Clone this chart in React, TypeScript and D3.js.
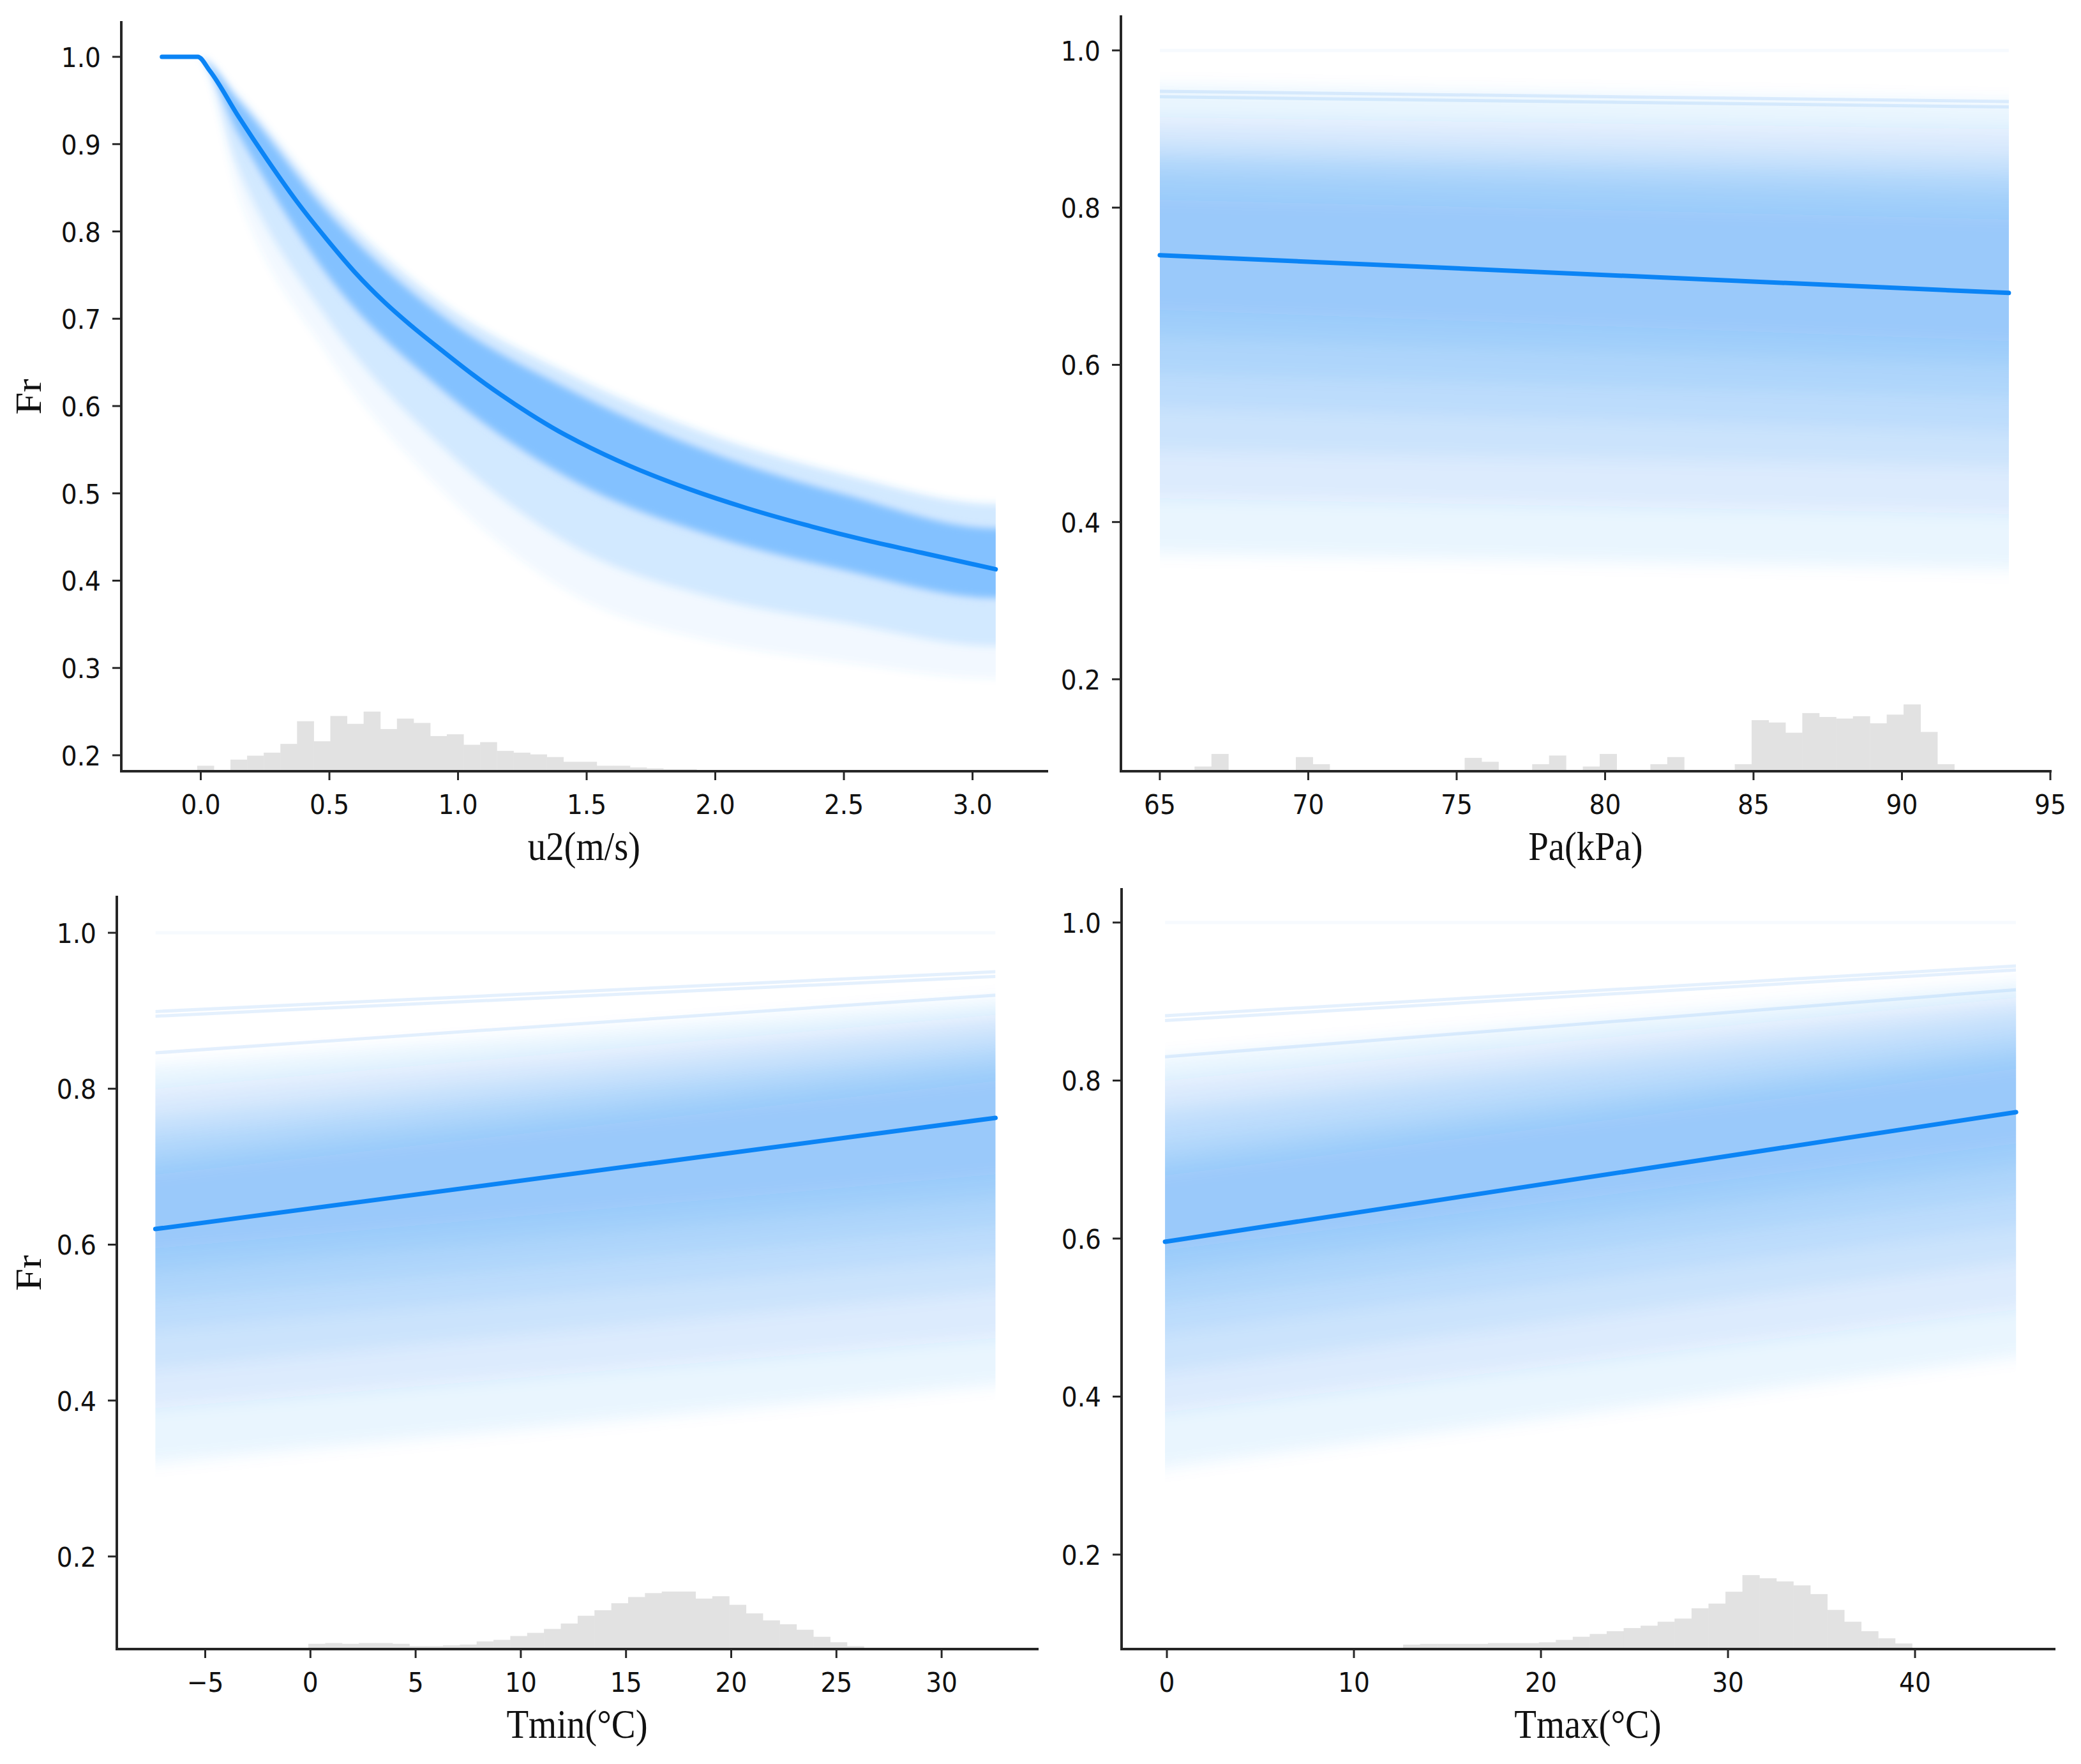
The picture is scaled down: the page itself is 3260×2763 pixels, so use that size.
import React from "react";
import * as d3 from "d3";

// ---------- u2 panel (top left) ----------
const u2MeanX = [-0.151, -0.012, 0.035, 0.148, 0.261, 0.374, 0.487, 0.6, 0.714, 0.826, 0.94, 1.053, 1.166, 1.279, 1.392, 1.469, 1.671, 1.897, 2.123, 2.349, 2.575, 2.802, 3.09];
const u2MeanY = [1.0, 1.0, 0.984, 0.931, 0.881, 0.834, 0.792, 0.753, 0.719, 0.69, 0.663, 0.637, 0.613, 0.591, 0.571, 0.559, 0.531, 0.505, 0.483, 0.464, 0.447, 0.432, 0.413];
// envelopes of the ICE curves
const u2BandX = [-0.151, -0.012, 0.148, 0.487, 0.94, 1.445, 2.0, 2.5, 3.09];
const u2FadeTop = [1, 1, 0.955, 0.837, 0.718, 0.635, 0.565, 0.522, 0.488];
const u2DenseTop = [1, 1, 0.949, 0.824, 0.703, 0.617, 0.545, 0.499, 0.46];
const u2DenseBottom = [1, 1, 0.911, 0.752, 0.618, 0.515, 0.45, 0.412, 0.38];
const u2LightBottom = [1, 1, 0.871, 0.702, 0.553, 0.44, 0.38, 0.352, 0.325];
const u2FaintBottom = [1, 1, 0.841, 0.662, 0.503, 0.385, 0.33, 0.307, 0.288];
const u2HistStart = -0.014;
const u2HistWidth = 0.0647;
const u2HistTop = [0.188, null, 0.195, 0.1995, 0.203, 0.213, 0.239, 0.216, 0.245, 0.236, 0.25, 0.23, 0.242, 0.237, 0.222, 0.224, 0.212, 0.215, 0.205, 0.203, 0.201, 0.198, 0.1925, 0.1925, 0.188, 0.188, 0.186, 0.185, 0.184, 0.184, 0.183, 0.183];
const u2TicksX = [0, 0.5, 1, 1.5, 2, 2.5, 3];
const u2TicksY = [0.2, 0.3, 0.4, 0.5, 0.6, 0.7, 0.8, 0.9, 1.0];

// ---------- Pa panel (top right) ----------
const paX = [65, 93.6];
const paMean = [0.7395, 0.6915];
const paBandStartLo = [0.36, 0.43, 0.49, 0.545, 0.59, 0.635, 0.67];
const paBandStartHi = [0.955, 0.915, 0.89, 0.87, 0.86, 0.84, 0.81];
const paBandEndLo = [0.34, 0.41, 0.47, 0.515, 0.56, 0.6, 0.63];
const paBandEndHi = [0.935, 0.9, 0.87, 0.85, 0.835, 0.815, 0.785];
const paLineStart = [0.948, 0.941];
const paLineEnd = [0.935, 0.928];
const paFaintStart = [1.0];
const paFaintEnd = [1.0];
const paHistStart = 66.17;
const paHistWidth = 0.5687;
const paHistTop = [0.089, 0.105, null, null, null, null, 0.101, 0.092, null, null, null, null, null, null, null, null, 0.1, 0.095, null, null, 0.092, 0.103, null, 0.089, 0.105, null, null, 0.092, 0.101, null, null, null, 0.092, 0.148, 0.145, 0.132, 0.157, 0.152, 0.15, 0.153, 0.144, 0.155, 0.168, 0.133, 0.092];
const paTicksX = [65, 70, 75, 80, 85, 90, 95];
const paTicksY = [0.2, 0.4, 0.6, 0.8, 1.0];

// ---------- Tmin panel (bottom left) ----------
const tminX = [-7.37, 32.56];
const tminMean = [0.62, 0.7626];
const tminBandStartLo = [0.32, 0.39, 0.44, 0.49, 0.53, 0.565, 0.595];
const tminBandStartHi = [0.83, 0.8, 0.77, 0.75, 0.73, 0.71, 0.69];
const tminBandEndLo = [0.42, 0.48, 0.54, 0.585, 0.625, 0.66, 0.69];
const tminBandEndHi = [0.915, 0.895, 0.88, 0.86, 0.845, 0.83, 0.81];
const tminLineStart = [0.899, 0.893, 0.846];
const tminLineEnd = [0.95, 0.944, 0.92];
const tminFaintStart = [1.0];
const tminFaintEnd = [1.0];
const tminHistStart = -0.1;
const tminHistWidth = 0.8;
const tminHistTop = [0.088, 0.089, 0.088, 0.089, 0.089, 0.088, 0.085, 0.085, 0.086, 0.087, 0.091, 0.093, 0.098, 0.102, 0.107, 0.114, 0.124, 0.131, 0.14, 0.148, 0.153, 0.155, 0.155, 0.146, 0.149, 0.138, 0.127, 0.118, 0.113, 0.106, 0.097, 0.09, 0.085];
const tminTicksX = [-5, 0, 5, 10, 15, 20, 25, 30];
const tminTicksY = [0.2, 0.4, 0.6, 0.8, 1.0];

// ---------- Tmax panel (bottom right) ----------
const tmaxX = [-0.1, 45.4];
const tmaxMean = [0.596, 0.76];
const tmaxBandStartLo = [0.31, 0.38, 0.43, 0.48, 0.52, 0.555, 0.585];
const tmaxBandStartHi = [0.83, 0.8, 0.77, 0.75, 0.72, 0.7, 0.68];
const tmaxBandEndLo = [0.45, 0.51, 0.57, 0.615, 0.655, 0.69, 0.72];
const tmaxBandEndHi = [0.925, 0.905, 0.89, 0.87, 0.85, 0.835, 0.815];
const tmaxLineStart = [0.882, 0.876, 0.83];
const tmaxLineEnd = [0.945, 0.94, 0.915];
const tmaxFaintStart = [1.0];
const tmaxFaintEnd = [1.0];
const tmaxHistStart = 12.63;
const tmaxHistWidth = 0.907;
const tmaxHistTop = [0.086, 0.087, 0.087, 0.087, 0.087, 0.088, 0.088, 0.088, 0.089, 0.092, 0.096, 0.0995, 0.103, 0.107, 0.11, 0.115, 0.119, 0.132, 0.138, 0.153, 0.174, 0.17, 0.166, 0.161, 0.15, 0.13, 0.115, 0.103, 0.094, 0.0875];
const tmaxTicksX = [0, 10, 20, 30, 40];
const tmaxTicksY = [0.2, 0.4, 0.6, 0.8, 1.0];

const AXIS = "#262626";
const ICE = "#1f86f0";
const MEAN = "#0b84f5";
const HIST = "#e2e2e2";
const TICK_FONT = "'DejaVu Sans', Verdana, sans-serif";
const LABEL_FONT = "'Liberation Serif', 'Times New Roman', serif";

type Box = { left: number; right: number; top: number; bottom: number };
type Scale = d3.ScaleLinear<number, number>;

const fmt1 = (v: number) => v.toFixed(1);
const fmtInt = (v: number) => (v < 0 ? "\u2212" + Math.abs(v) : String(v));

function Axes(props: {
  box: Box; x: Scale; y: Scale; xTicks: number[]; yTicks: number[];
  xFmt: (v: number) => string; yFmt: (v: number) => string; xLabel: string; yLabel?: string;
}) {
  const { box, x, y, xTicks, yTicks, xFmt, yFmt, xLabel, yLabel } = props;
  const cy = (box.top + box.bottom) / 2;
  return (
    <g>
      <line x1={box.left} x2={box.left} y1={box.top} y2={box.bottom} stroke={AXIS} strokeWidth={4} strokeLinecap="square" />
      <line x1={box.left} x2={box.right} y1={box.bottom} y2={box.bottom} stroke={AXIS} strokeWidth={4} strokeLinecap="square" />
      {yTicks.map((t) => (
        <g key={"y" + t}>
          <line x1={box.left - 14} x2={box.left} y1={y(t)} y2={y(t)} stroke={AXIS} strokeWidth={3} />
          <text transform={`translate(${box.left - 32},${y(t) + 16}) scale(0.9,1)`} textAnchor="end"
            fontFamily={TICK_FONT} fontSize={43.5} fill="#111">{yFmt(t)}</text>
        </g>
      ))}
      {xTicks.map((t) => (
        <g key={"x" + t}>
          <line x1={x(t)} x2={x(t)} y1={box.bottom} y2={box.bottom + 14} stroke={AXIS} strokeWidth={3} />
          <text transform={`translate(${x(t)},${box.bottom + 67}) scale(0.9,1)`} textAnchor="middle"
            fontFamily={TICK_FONT} fontSize={43.5} fill="#111">{xFmt(t)}</text>
        </g>
      ))}
      <text transform={`translate(${(box.left + box.right) / 2},${box.bottom + 139}) scale(0.9,1)`} textAnchor="middle"
        fontFamily={LABEL_FONT} fontSize={63} fill="#111">{xLabel}</text>
      {yLabel && (
        <text transform={`translate(64,${cy}) scale(0.9,1) rotate(-90)`} textAnchor="middle"
          fontFamily={LABEL_FONT} fontSize={63} fill="#111">{yLabel}</text>
      )}
    </g>
  );
}

function Hist({ x, y, start, width, tops, base }: { x: Scale; y: Scale; start: number; width: number; tops: (number | null)[]; base: number }) {
  return (
    <g>
      {tops.map((t, i) => {
        if (t === null) return null;
        const x0 = x(start + i * width);
        const x1 = x(start + (i + 1) * width);
        return <rect key={i} x={x0} width={x1 - x0 + 0.5} y={y(t)} height={y(base) - y(t)} fill={HIST} />;
      })}
    </g>
  );
}

function LinearPanel(props: {
  id: string; box: Box; xDomain: [number, number]; yDomain: [number, number];
  lineX: number[]; mean: number[];
  bandStartLo: number[]; bandStartHi: number[]; bandEndLo: number[]; bandEndHi: number[];
  lineStart: number[]; lineEnd: number[]; faintStart: number[]; faintEnd: number[];
  histStart: number; histWidth: number; histTop: (number | null)[];
  xTicks: number[]; yTicks: number[]; xFmt: (v: number) => string; xLabel: string; yLabel?: string;
}) {
  const p = props;
  const x = d3.scaleLinear().domain(p.xDomain).range([p.box.left, p.box.right]);
  const y = d3.scaleLinear().domain(p.yDomain).range([p.box.bottom, p.box.top]);
  const [x0, x1] = p.lineX;
  const ext = (x1 - x0) * 0.05;
  const xs = [x0 - ext, x1 + ext];
  const area = d3.area<[number, number, number]>()
    .x((d) => x(d[0])).y0((d) => y(d[1])).y1((d) => y(d[2]));
  const line = d3.line<[number, number]>().x((d) => x(d[0])).y((d) => y(d[1]));
  const seg = (a: number, b: number) => d3.scaleLinear().domain([x0, x1]).range([a, b]);
  return (
    <g>
      <defs>
        <clipPath id={"clip-" + p.id}>
          <rect x={x(x0)} width={x(x1) - x(x0)} y={p.box.top} height={p.box.bottom - p.box.top} />
        </clipPath>
      </defs>
      <Hist x={x} y={y} start={p.histStart} width={p.histWidth} tops={p.histTop} base={p.yDomain[0]} />
      <g clipPath={`url(#clip-${p.id})`}>
        <g filter="url(#blurLin)">
          {p.bandStartLo.map((_, i) => {
            const lo = seg(p.bandStartLo[i], p.bandEndLo[i]);
            const hi = seg(p.bandStartHi[i], p.bandEndHi[i]);
            const pts: [number, number, number][] = xs.map((v) => [v, lo(v), hi(v)]);
            return <path key={i} d={area(pts) || ""} fill={ICE} fillOpacity={0.085} />;
          })}
        </g>
        {p.lineStart.map((s, i) => (
          <path key={"l" + i} d={line([[x0, s], [x1, p.lineEnd[i]]]) || ""} stroke={ICE} strokeOpacity={0.12} strokeWidth={5} fill="none" />
        ))}
        {p.faintStart.map((s, i) => (
          <path key={"f" + i} d={line([[x0, s], [x1, p.faintEnd[i]]]) || ""} stroke={ICE} strokeOpacity={0.04} strokeWidth={5} fill="none" />
        ))}
      </g>
      <path d={line([[x0, p.mean[0]], [x1, p.mean[1]]]) || ""} stroke={MEAN} strokeWidth={7} strokeLinecap="round" fill="none" />
      <Axes box={p.box} x={x} y={y} xTicks={p.xTicks} yTicks={p.yTicks} xFmt={p.xFmt} yFmt={fmt1} xLabel={p.xLabel} yLabel={p.yLabel} />
    </g>
  );
}

function U2Panel() {
  const box: Box = { left: 190, right: 1640, top: 35, bottom: 1208 };
  const x = d3.scaleLinear().domain([-0.309, 3.289]).range([box.left, box.right]);
  const y = d3.scaleLinear().domain([0.1817, 1.0395]).range([box.bottom, box.top]);
  const n = u2BandX.length;
  const pad = (arr: number[]) => [arr[0], ...arr, arr[n - 1]];
  const bx = [u2BandX[0] - 0.1, ...u2BandX, u2BandX[n - 1] + 0.1];
  const band = (top: number[], bottom: number[]) => {
    const t = pad(top), b = pad(bottom);
    return d3.area<number>()
      .x((_, i) => x(bx[i])).y0((_, i) => y(b[i])).y1((_, i) => y(t[i]))
      .curve(d3.curveMonotoneX)(bx) || "";
  };
  const mean = d3.line<number>().x((_, i) => x(u2MeanX[i])).y((d) => y(d)).curve(d3.curveMonotoneX)(u2MeanY) || "";
  const xa = x(u2BandX[0]), xb = x(u2BandX[n - 1]);
  return (
    <g>
      <defs>
        <clipPath id="clip-u2">
          <rect x={xa} width={xb - xa} y={box.top} height={box.bottom - box.top} />
        </clipPath>
      </defs>
      <Hist x={x} y={y} start={u2HistStart} width={u2HistWidth} tops={u2HistTop} base={0.1817} />
      <g clipPath="url(#clip-u2)">
        <g filter="url(#blurU2)">
          <path d={band(u2FadeTop, u2FaintBottom)} fill="#3d9bff" fillOpacity={0.07} />
          <path d={band(u2FadeTop, u2LightBottom)} fill="#3d9bff" fillOpacity={0.17} />
          <path d={band(u2DenseTop, u2DenseBottom)} fill="#7fc0ff" fillOpacity={0.95} />
        </g>
      </g>
      <path d={mean} stroke={MEAN} strokeWidth={7} strokeLinecap="round" strokeLinejoin="round" fill="none" />
      <Axes box={box} x={x} y={y} xTicks={u2TicksX} yTicks={u2TicksY} xFmt={fmt1} yFmt={fmt1} xLabel="u2(m/s)" yLabel="Fr" />
    </g>
  );
}

export default function App() {
  return (
    <div>
      <style>{"body{margin:0;background:#fff}"}</style>
      <svg width={3260} height={2763} viewBox="0 0 3260 2763" style={{ display: "block", background: "#fff" }}>
        <defs>
          <filter id="blurLin" x="-10%" y="-10%" width="120%" height="120%">
            <feGaussianBlur stdDeviation="12" />
          </filter>
          <filter id="blurU2" x="-10%" y="-10%" width="120%" height="120%">
            <feGaussianBlur stdDeviation="6" />
          </filter>
        </defs>
        <U2Panel />
        <LinearPanel id="pa" box={{ left: 1756, right: 3212, top: 26, bottom: 1208 }}
          xDomain={[63.69, 95.0]} yDomain={[0.083, 1.043]}
          lineX={paX} mean={paMean}
          bandStartLo={paBandStartLo} bandStartHi={paBandStartHi} bandEndLo={paBandEndLo} bandEndHi={paBandEndHi}
          lineStart={paLineStart} lineEnd={paLineEnd} faintStart={paFaintStart} faintEnd={paFaintEnd}
          histStart={paHistStart} histWidth={paHistWidth} histTop={paHistTop}
          xTicks={paTicksX} yTicks={paTicksY} xFmt={fmtInt} xLabel="Pa(kPa)" />
        <LinearPanel id="tmin" box={{ left: 183, right: 1625, top: 1405, bottom: 2583 }}
          xDomain={[-9.202, 34.548]} yDomain={[0.0812, 1.0459]}
          lineX={tminX} mean={tminMean}
          bandStartLo={tminBandStartLo} bandStartHi={tminBandStartHi} bandEndLo={tminBandEndLo} bandEndHi={tminBandEndHi}
          lineStart={tminLineStart} lineEnd={tminLineEnd} faintStart={tminFaintStart} faintEnd={tminFaintEnd}
          histStart={tminHistStart} histWidth={tminHistWidth} histTop={tminHistTop}
          xTicks={tminTicksX} yTicks={tminTicksY} xFmt={fmtInt} xLabel="Tmin(°C)" yLabel="Fr" />
        <LinearPanel id="tmax" box={{ left: 1757, right: 3218, top: 1393, bottom: 2583 }}
          xDomain={[-2.423, 47.44]} yDomain={[0.0804, 1.042]}
          lineX={tmaxX} mean={tmaxMean}
          bandStartLo={tmaxBandStartLo} bandStartHi={tmaxBandStartHi} bandEndLo={tmaxBandEndLo} bandEndHi={tmaxBandEndHi}
          lineStart={tmaxLineStart} lineEnd={tmaxLineEnd} faintStart={tmaxFaintStart} faintEnd={tmaxFaintEnd}
          histStart={tmaxHistStart} histWidth={tmaxHistWidth} histTop={tmaxHistTop}
          xTicks={tmaxTicksX} yTicks={tmaxTicksY} xFmt={fmtInt} xLabel="Tmax(°C)" />
      </svg>
    </div>
  );
}
